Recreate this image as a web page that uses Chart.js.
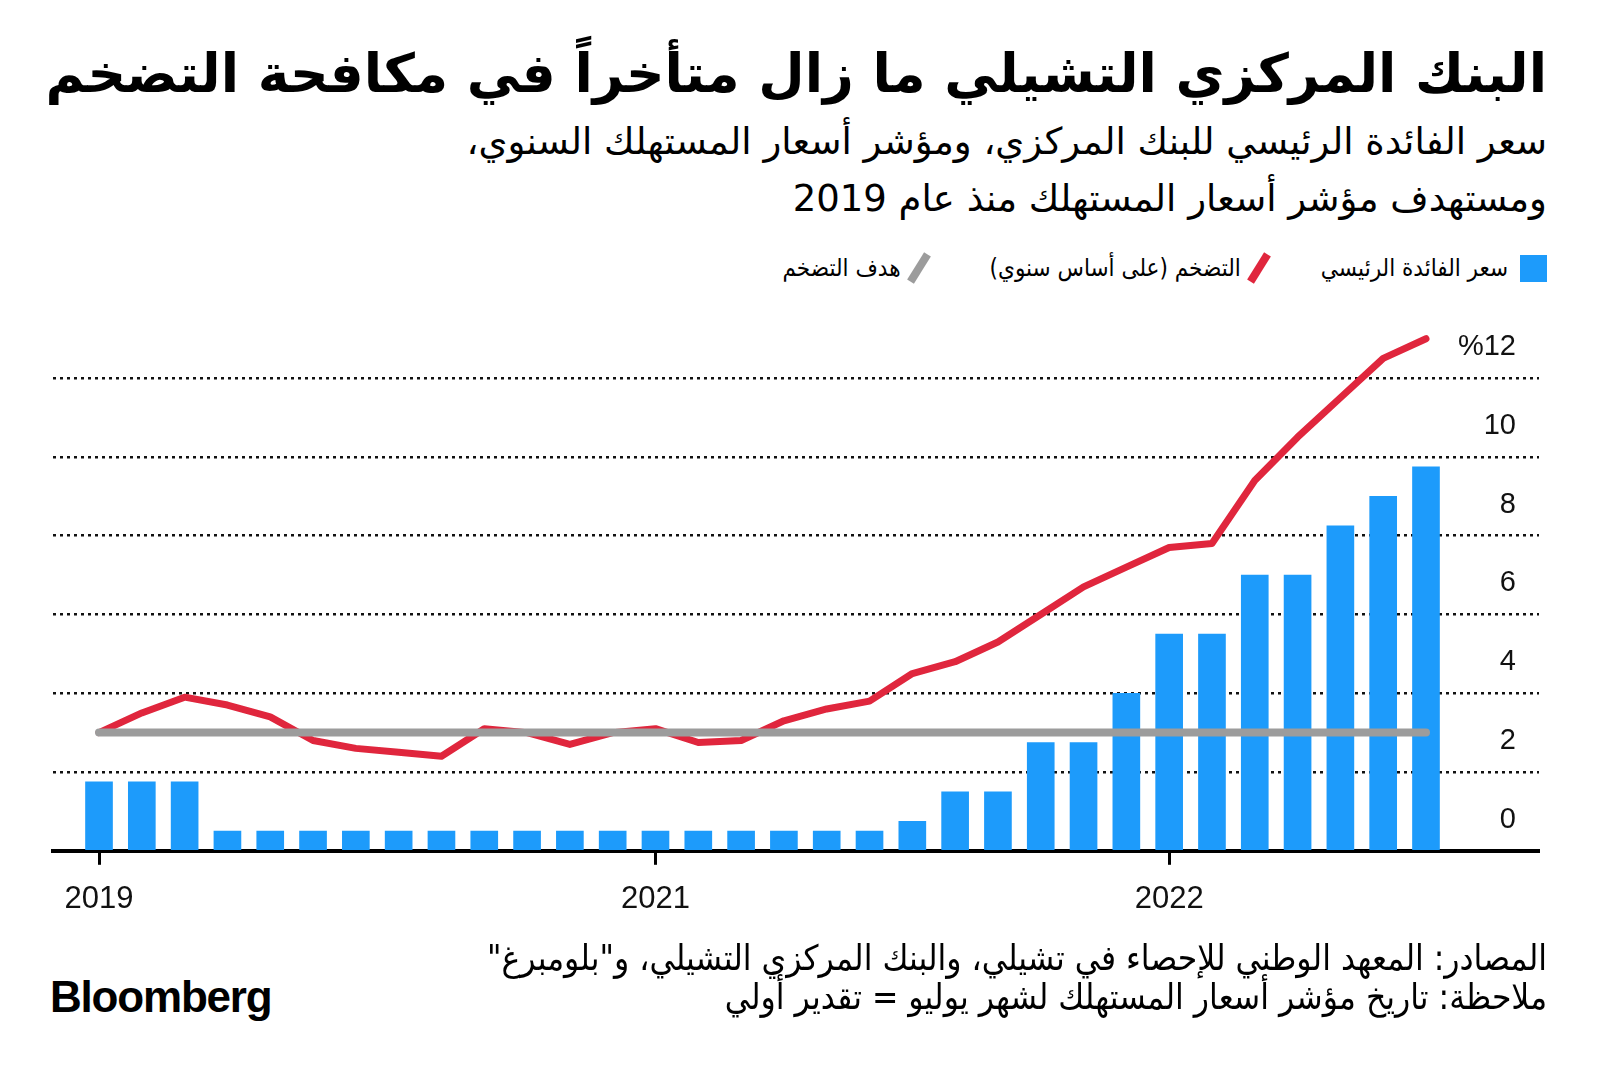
<!DOCTYPE html>
<html lang="ar">
<head>
    <meta charset="UTF-8">
    <title>Chile central bank vs inflation</title>
    <script src="https://cdn.jsdelivr.net/npm/chart.js"></script>
    <style>
        html, body {
            margin: 0;
            padding: 0;
            background: #ffffff;
            width: 1600px;
            height: 1077px;
            overflow: hidden;
        }

        .ar {
            position: absolute;
            right: 53px;
            direction: rtl;
            text-align: right;
            font-family: "DejaVu Sans", sans-serif;
            color: #000;
            white-space: nowrap;
        }

        #title {
            top: 38px;
            font-size: 53.5px;
            line-height: 72px;
            font-weight: bold;
        }

        #subtitle {
            top: 113px;
            font-size: 37px;
            line-height: 57px;
        }

        /* Legend, right to left */
        #legend {
            top: 250px;
            font-size: 24px;
            line-height: 36px;
            display: flex;
            align-items: center;
            font-family: "DejaVu Sans Condensed", "DejaVu Sans", sans-serif;
        }
        .item { display: flex; align-items: center; }
        .swatch { width: 27px; height: 27px; margin-left: 12px; }
        .slash { width: 8px; height: 32px; margin: 0 10px 0 14px; transform: rotate(32deg); }

        #chartWrap {
            position: absolute;
            left: 0;
            top: 300px;
            width: 1600px;
            height: 640px;
        }

        #footer {
            top: 939px;
            font-size: 35px;
            line-height: 39px;
            font-family: "DejaVu Sans Condensed", "DejaVu Sans", sans-serif;
        }

        #logo {
            position: absolute;
            left: 50px;
            top: 974px;
            font-family: "Liberation Sans", Arial, sans-serif;
            font-weight: bold;
            font-size: 44px;
            line-height: 46px;
            letter-spacing: -1.2px;
            color: #000;
        }
    </style>
</head>
<body>

    <div id="title" class="ar">البنك المركزي التشيلي ما زال متأخراً في مكافحة التضخم</div>
    <div id="subtitle" class="ar">سعر الفائدة الرئيسي للبنك المركزي، ومؤشر أسعار المستهلك السنوي،<br>ومستهدف مؤشر أسعار المستهلك منذ عام 2019</div>

    <div id="legend" class="ar"></div>

    <div id="chartWrap"><canvas id="chart"></canvas></div>

    <div id="footer" class="ar">المصادر: المعهد الوطني للإحصاء في تشيلي، والبنك المركزي التشيلي، و"بلومبرغ"<br>ملاحظة: تاريخ مؤشر أسعار المستهلك لشهر يوليو = تقدير أولي</div>
    <div id="logo">Bloomberg</div>

    <script>
        // Monthly, Dec 2019 .. Jul 2022
        const months = [
            '2019-12',
            '2020-01', '2020-02', '2020-03', '2020-04', '2020-05', '2020-06',
            '2020-07', '2020-08', '2020-09', '2020-10', '2020-11', '2020-12',
            '2021-01', '2021-02', '2021-03', '2021-04', '2021-05', '2021-06',
            '2021-07', '2021-08', '2021-09', '2021-10', '2021-11', '2021-12',
            '2022-01', '2022-02', '2022-03', '2022-04', '2022-05', '2022-06', '2022-07'
        ];

        // Policy rate (%)
        const policyRate = [
            1.75, 1.75, 1.75,
            0.5, 0.5, 0.5, 0.5, 0.5, 0.5, 0.5, 0.5,
            0.5, 0.5, 0.5, 0.5, 0.5, 0.5, 0.5, 0.5,
            0.75, 1.5, 1.5, 2.75, 2.75, 4.0,
            5.5, 5.5, 7.0, 7.0, 8.25, 9.0, 9.75
        ];

        // CPI YoY (%)
        const inflation = [
            3.0, 3.5, 3.9, 3.7, 3.4, 2.8, 2.6, 2.5, 2.4, 3.1, 3.0, 2.7, 3.0,
            3.1, 2.75, 2.8, 3.3, 3.6, 3.8, 4.5, 4.8, 5.3, 6.0, 6.7, 7.2,
            7.7, 7.8, 9.4, 10.5, 11.5, 12.5, 13.0
        ];

        // Inflation target (%)
        const target = months.map(() => 3);

        // x tick labels, keyed by month index
        const xTickLabels = { 0: '2019', 13: '2021', 25: '2022' };
        const yTickValues = [0, 2, 4, 6, 8, 10, 12];

        const legendNames = ['سعر الفائدة الرئيسي', 'التضخم (على أساس سنوي)', 'هدف التضخم'];

        const BLUE = '#1d9bfb';
        const RED = '#e0263d';
        const GREY = '#9c9c9c';

        // HTML legend
        const legend = document.getElementById('legend');
        legend.innerHTML =
            '<div class="item" style="margin-left:48px"><div class="swatch" style="background:' + BLUE + '"></div>' + legendNames[0] + '</div>' +
            '<div class="item" style="margin-left:57px"><div class="slash" style="background:' + RED + '"></div>' + legendNames[1] + '</div>' +
            '<div class="item"><div class="slash" style="background:' + GREY + '"></div>' + legendNames[2] + '</div>';

        const pts = arr => arr.map((v, i) => ({ x: i, y: v }));

        // y labels sit above their gridline, right aligned
        const yLabels = {
            id: 'yLabels',
            afterDatasetsDraw(chart) {
                const { ctx, scales: { y } } = chart;
                ctx.save();
                ctx.font = '29px "Liberation Sans", Arial, sans-serif';
                ctx.fillStyle = '#111';
                ctx.textAlign = 'right';
                ctx.textBaseline = 'middle';
                yTickValues.forEach(v => {
                    const label = v === 12 ? '%12' : String(v);
                    ctx.fillText(label, 1516, y.getPixelForValue(v) - 31);
                });
                ctx.restore();
            }
        };

        new Chart(document.getElementById('chart'), {
            data: {
                datasets: [
                    {
                        type: 'line',
                        label: legendNames[2],
                        data: pts(target),
                        borderColor: GREY,
                        borderWidth: 8,
                        borderCapStyle: 'round',
                        pointRadius: 0,
                        order: 0
                    },
                    {
                        type: 'line',
                        label: legendNames[1],
                        data: pts(inflation),
                        borderColor: RED,
                        borderWidth: 7,
                        borderCapStyle: 'round',
                        borderJoinStyle: 'round',
                        pointRadius: 0,
                        tension: 0,
                        order: 1
                    },
                    {
                        type: 'bar',
                        label: legendNames[0],
                        data: pts(policyRate),
                        backgroundColor: BLUE,
                        barThickness: 27,
                        order: 2
                    }
                ]
            },
            options: {
                responsive: true,
                maintainAspectRatio: false,
                animation: false,
                layout: { padding: { top: 19, left: 53, right: 61, bottom: 6 } },
                plugins: {
                    legend: { display: false },
                    tooltip: { enabled: false }
                },
                scales: {
                    x: {
                        type: 'linear',
                        offset: false,
                        min: -1.075,
                        max: 33.64,
                        afterBuildTicks: axis => {
                            axis.ticks = Object.keys(xTickLabels).map(k => ({ value: +k }));
                        },
                        grid: {
                            offset: false,
                            drawOnChartArea: false,
                            drawTicks: true,
                            tickLength: 14,
                            tickWidth: 3,
                            tickColor: '#000'
                        },
                        border: { color: '#000', width: 4 },
                        ticks: {
                            autoSkip: false,
                            maxRotation: 0,
                            padding: 16,
                            color: '#111',
                            font: { family: '"Liberation Sans", Arial, sans-serif', size: 31 },
                            callback: v => xTickLabels[v] || ''
                        }
                    },
                    y: {
                        min: 0,
                        max: 13.5,
                        afterBuildTicks: axis => {
                            axis.ticks = yTickValues.map(v => ({ value: v }));
                        },
                        border: { display: false, dash: [3, 4] },
                        grid: {
                            drawTicks: false,
                            color: ctx => ctx.tick && ctx.tick.value === 0 ? 'rgba(0,0,0,0)' : '#111',
                            lineWidth: 2.5
                        },
                        ticks: { display: false }
                    }
                }
            },
            plugins: [yLabels]
        });
    </script>
</body>
</html>
